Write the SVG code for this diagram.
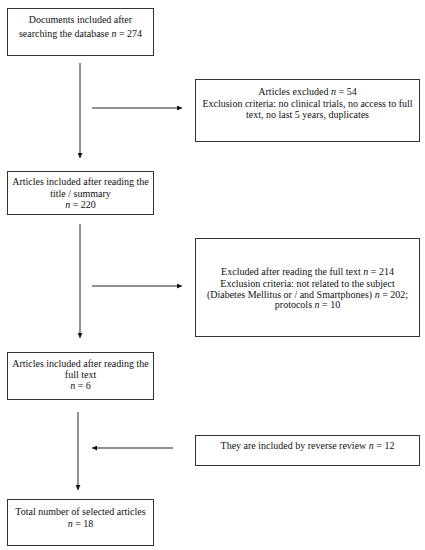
<svg xmlns="http://www.w3.org/2000/svg" width="425" height="550" viewBox="0 0 425 550">
<defs>
<marker id="ah" viewBox="0 0 10 10" refX="10" refY="5" markerWidth="5" markerHeight="5" orient="auto" markerUnits="userSpaceOnUse">
<path d="M0,0 L10,5 L0,10 z" fill="#111"/>
</marker>
</defs>
<style>
.box{fill:#fff;stroke:#333;stroke-width:1}
text{font-family:"Liberation Serif","Times New Roman",serif;font-size:10px;fill:#111;text-anchor:middle}
.i{font-style:italic}
.c{stroke:#222;stroke-width:1;fill:none;marker-end:url(#ah)}
</style>
<rect width="425" height="550" fill="#fff"/>
<g id="connectors">
<line class="c" x1="80" y1="63" x2="80" y2="158"/>
<line class="c" x1="92" y1="108" x2="182" y2="108"/>
<line class="c" x1="80" y1="224" x2="80" y2="338"/>
<line class="c" x1="92" y1="286" x2="182" y2="286"/>
<line class="c" x1="78" y1="412" x2="78" y2="490"/>
<line class="c" x1="173" y1="448" x2="92" y2="448"/>
</g>
<g id="n1">
<rect class="box" x="7.5" y="8.5" width="146" height="47"/>
<text x="80.5" y="23">Documents included after</text>
<text x="80.5" y="36.5">searching the database <tspan class="i">n</tspan> = 274</text>
</g>
<g id="n2">
<rect class="box" x="195.5" y="79.5" width="224" height="62"/>
<text x="307.5" y="94.5">Articles excluded <tspan class="i">n</tspan> = 54</text>
<text x="307.5" y="106.5">Exclusion criteria: no clinical trials, no access to full</text>
<text x="307.5" y="117.5">text, no last 5 years, duplicates</text>
</g>
<g id="n3">
<rect class="box" x="7.5" y="171.5" width="146" height="43"/>
<text x="80.5" y="185">Articles included after reading the</text>
<text x="80.5" y="196.5">title / summary</text>
<text x="80.5" y="207.5"><tspan class="i">n</tspan> = 220</text>
</g>
<g id="n4">
<rect class="box" x="195.5" y="238.5" width="224" height="98"/>
<text x="307.5" y="275">Excluded after reading the full text <tspan class="i">n</tspan> = 214</text>
<text x="307.5" y="286.5">Exclusion criteria: not related to the subject</text>
<text x="307.5" y="297.5">(Diabetes Mellitus or / and Smartphones) <tspan class="i">n</tspan> = 202;</text>
<text x="307.5" y="308">protocols <tspan class="i">n</tspan> = 10</text>
</g>
<g id="n5">
<rect class="box" x="7.5" y="352.5" width="146" height="47"/>
<text x="80.5" y="367">Articles included after reading the</text>
<text x="80.5" y="378">full text</text>
<text x="80.5" y="388.5"><tspan class="i">n</tspan> = 6</text>
</g>
<g id="n6">
<rect class="box" x="195.5" y="435.5" width="224" height="30"/>
<text x="307.5" y="448.5">They are included by reverse review <tspan class="i">n</tspan> = 12</text>
</g>
<g id="n7">
<rect class="box" x="7.5" y="499.5" width="146" height="46"/>
<text x="80.5" y="515">Total number of selected articles</text>
<text x="80.5" y="526.5"><tspan class="i">n</tspan> = 18</text>
</g>
</svg>
